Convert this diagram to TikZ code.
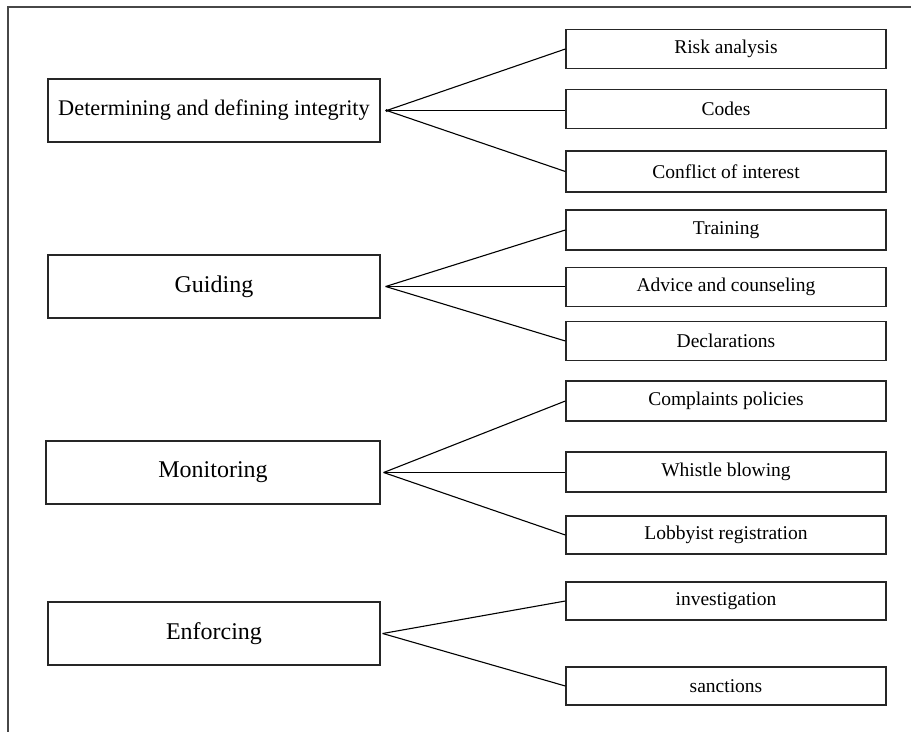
\documentclass[tikz,border=0pt]{standalone}
\usepackage{fontspec}
\setmainfont{Liberation Serif}
\begin{document}
\begin{tikzpicture}[x=1pt,y=-1pt,
  mainbox/.style={draw=black!85,line width=1.3pt,inner sep=0pt,minimum width=332pt,minimum height=63pt,font=\fontsize{24}{26}\selectfont},
  subbox/.style={draw=black!85,line width=1.3pt,inner sep=0pt,minimum width=320pt,minimum height=39pt,font=\fontsize{19.5}{22}\selectfont},
  link/.style={draw=black,line width=1.1pt},
  frameline/.style={draw=black!72,line width=1.8pt}]
\useasboundingbox (0,0) rectangle (911,732);
\coordinate (ftr) at (911,7);
\coordinate (ftl) at (8,7);
\coordinate (fbl) at (8,732);
\draw[frameline] (ftr) -- (ftl) -- (fbl);
% main boxes
\node[mainbox,font=\fontsize{22.3}{24}\selectfont] (det) at (214,110.5) {Determining and defining integrity};
\node[mainbox] (gui) at (214,286.5) {Guiding};
\node[mainbox,minimum width=334pt] (mon) at (213,472.5) {Monitoring};
\node[mainbox] (enf) at (214,633.5) {Enforcing};
% sub boxes
\node[subbox] (risk) at (726,49) {Risk analysis};
\node[subbox] (codes) at (726,109) {Codes};
\node[subbox,minimum height=41pt] (conf) at (726,171.5) {Conflict of interest};
\node[subbox,minimum height=40pt] (train) at (726,230) {Training};
\node[subbox] (adv) at (726,287) {Advice and counseling};
\node[subbox] (decl) at (726,341) {Declarations};
\node[subbox,minimum height=40pt] (comp) at (726,401) {Complaints policies};
\node[subbox,minimum height=40pt] (whis) at (726,472) {Whistle blowing};
\node[subbox,minimum height=38pt] (lobb) at (726,535) {Lobbyist registration};
\node[subbox,minimum height=38pt] (inv) at (726,601) {investigation};
\node[subbox,minimum height=38pt] (sanc) at (726,686) {sanctions};
% fan points
\coordinate (fdet) at ([xshift=6pt]det.east);
\coordinate (fgui) at ([xshift=5pt]gui.east);
\coordinate (fmon) at ([xshift=3pt]mon.east);
\coordinate (fenf) at ([xshift=2pt]enf.east);
\fill (fdet) circle (1.6pt);
\draw[link] (fdet) -- (risk.west);
\draw[link] (fdet) -- (codes.west |- fdet);
\draw[link] (fdet) -- (conf.west);
\draw[link] (fgui) -- (train.west);
\draw[link] (fgui) -- (adv.west |- fgui);
\draw[link] (fgui) -- (decl.west);
\draw[link] (fmon) -- (comp.west);
\draw[link] (fmon) -- (whis.west |- fmon);
\draw[link] (fmon) -- (lobb.west);
\draw[link] (fenf) -- (inv.west);
\draw[link] (fenf) -- (sanc.west);
\end{tikzpicture}
\end{document}
